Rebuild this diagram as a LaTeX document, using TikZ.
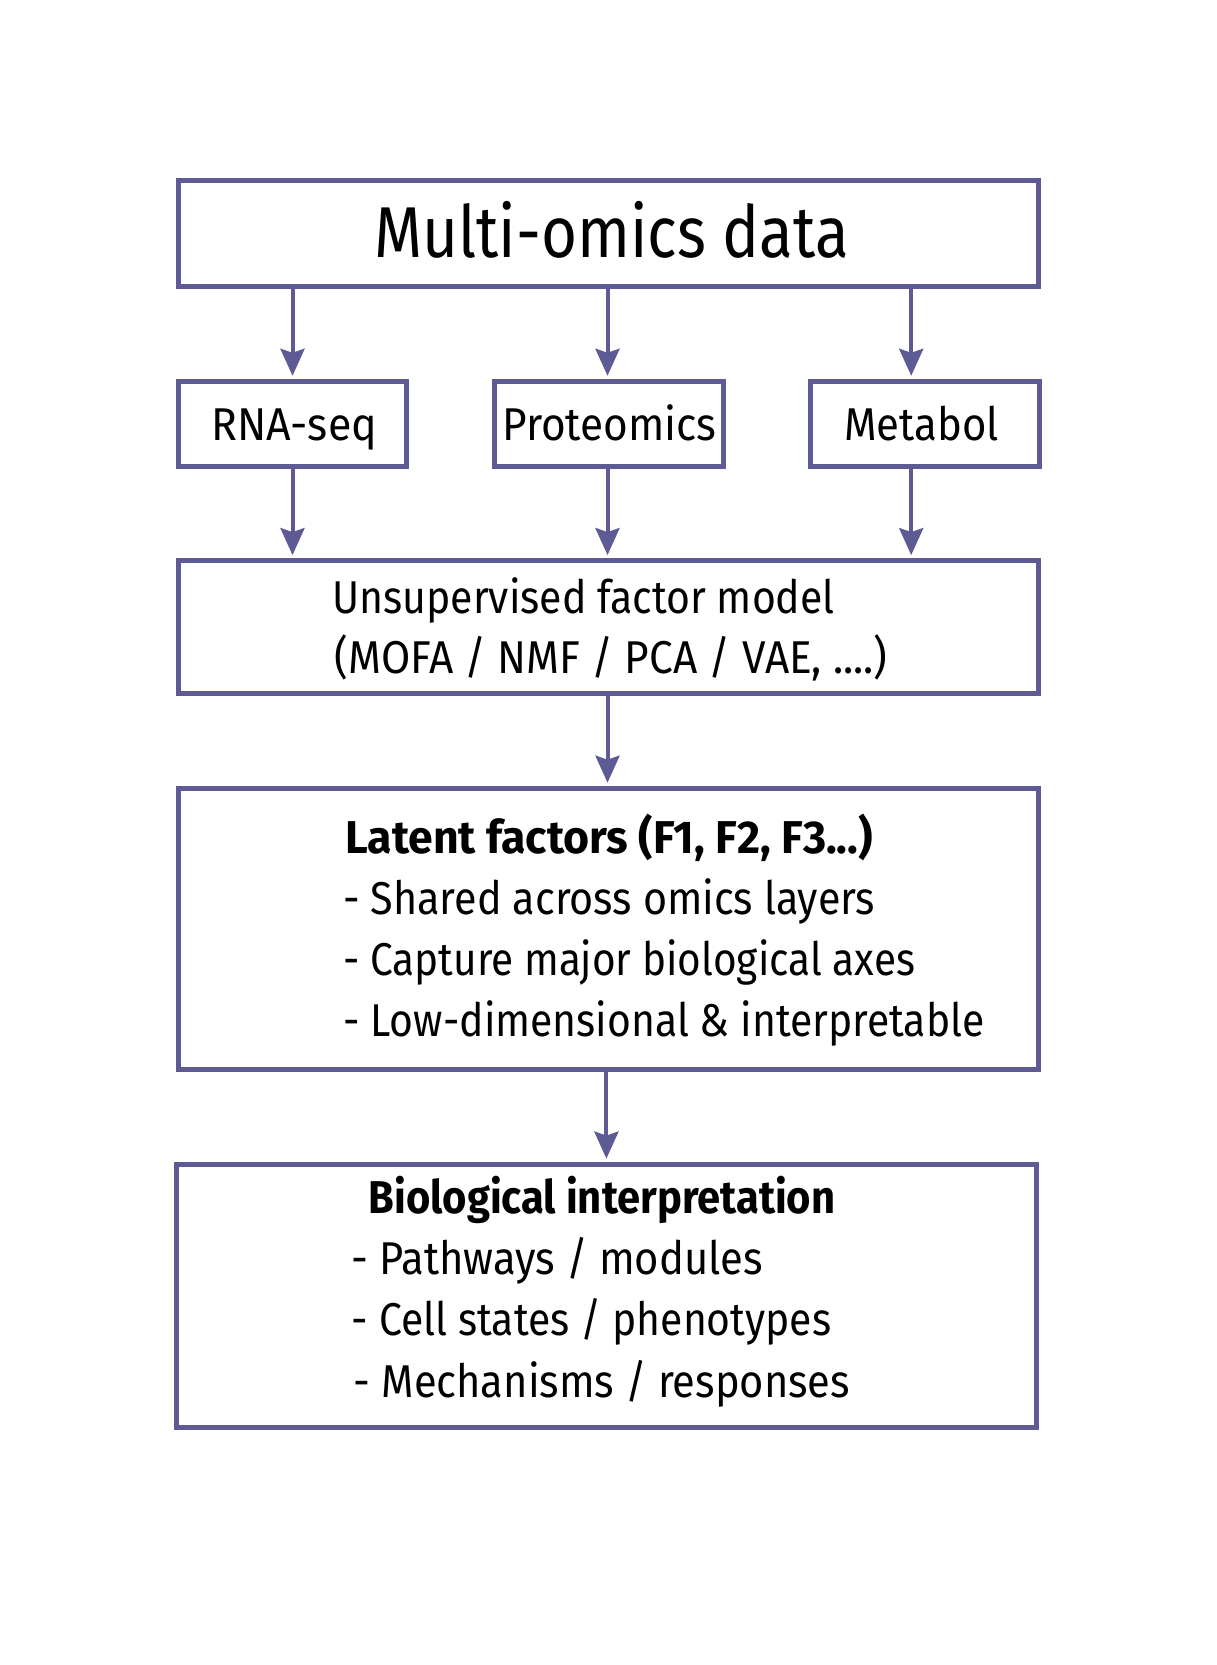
\documentclass[tikz,border=0pt]{standalone}
\usepackage{fontspec}
\setmainfont{Fira Sans}
\usetikzlibrary{arrows.meta}
\definecolor{pur}{RGB}{94,90,148}
\newcommand{\sq}[2]{\scalebox{#1}[1]{#2}}
\begin{document}
\begin{tikzpicture}[x=1pt,y=-1pt,
  box/.style={draw=pur, line width=5pt, inner sep=0pt, fill=white},
  arr/.style={draw=pur, line width=4pt, -{Stealth[length=27pt,width=24pt,inset=4pt]}},
  txt/.style={anchor=base west, inner sep=0pt, font=\fontsize{46}{55}\selectfont},
  btxt/.style={txt, font=\fontsize{46}{55}\selectfont\bfseries}]
\useasboundingbox[fill=white] (0,0) rectangle (1216,1665);
% boxes
\node[box, minimum width=860pt, minimum height=106pt] (top) at (608.5,233.6) {};
\node[box, minimum width=228pt, minimum height=85pt] (rna) at (292.6,423.8) {};
\node[box, minimum width=229pt, minimum height=85pt] (prot) at (608.5,423.8) {};
\node[box, minimum width=229pt, minimum height=85pt] (met) at (925,423.8) {};
\node[box, minimum width=860pt, minimum height=133pt] (uns) at (608.5,627.1) {};
\node[box, minimum width=860pt, minimum height=281pt] (lat) at (608.5,928.7) {};
\node[box, minimum width=860pt, minimum height=263pt] (bio) at (606.4,1295.6) {};
% arrow columns
\coordinate (xa) at (292.5,0);
\coordinate (xb) at (607.5,0);
\coordinate (xc) at (911.2,0);
\coordinate (xd) at (606.4,0);
\draw[arr] (top.south -| xa) -- ([yshift=3pt]rna.north -| xa);
\draw[arr] (top.south -| xb) -- ([yshift=3pt]prot.north -| xb);
\draw[arr] (top.south -| xc) -- ([yshift=3pt]met.north -| xc);
\draw[arr] (rna.south -| xa) -- ([yshift=3pt]uns.north -| xa);
\draw[arr] (prot.south -| xb) -- ([yshift=3pt]uns.north -| xb);
\draw[arr] (met.south -| xc) -- ([yshift=3pt]uns.north -| xc);
\draw[arr] (uns.south -| xb) -- ([yshift=3pt]lat.north -| xb);
\draw[arr] (lat.south -| xd) -- ([yshift=3pt]bio.north -| xd);
% texts
\node[txt, font=\fontsize{72}{80}\selectfont] (t0) at (374,257) {\sq{0.859}{Multi-omics data}};
\node[txt] (t1) at (211,440) {\sq{0.933}{RNA-seq}};
\node[txt] (t2) at (502,440) {\sq{0.921}{Proteomics}};
\node[txt] (t3) at (844,440) {\sq{0.911}{Metabol}};
\node[txt] (t4) at (332,613) {\sq{0.891}{Unsupervised factor model}};
\node[txt] (t5) at (334.5,673) {\sq{0.921}{(MOFA / NMF / PCA / VAE, ....)}};
\node[btxt] (t6) at (345,853) {\sq{0.969}{Latent factors (F1, F2, F3...)}};
\node[txt] (t7) at (343,914) {\sq{0.898}{- Shared across omics layers}};
\node[txt] (t8) at (343,975) {\sq{0.882}{- Capture major biological axes}};
\node[txt] (t9) at (343,1036) {\sq{0.889}{- Low-dimensional \& interpretable}};
\node[btxt] (t10) at (368.5,1213) {\sq{0.907}{Biological interpretation}};
\node[txt] (t11) at (351.5,1274) {\sq{0.908}{- Pathways / modules}};
\node[txt] (t12) at (351.5,1335) {\sq{0.889}{- Cell states / phenotypes}};
\node[txt] (t13) at (353.6,1397) {\sq{0.905}{- Mechanisms / responses}};
\end{tikzpicture}
\end{document}
